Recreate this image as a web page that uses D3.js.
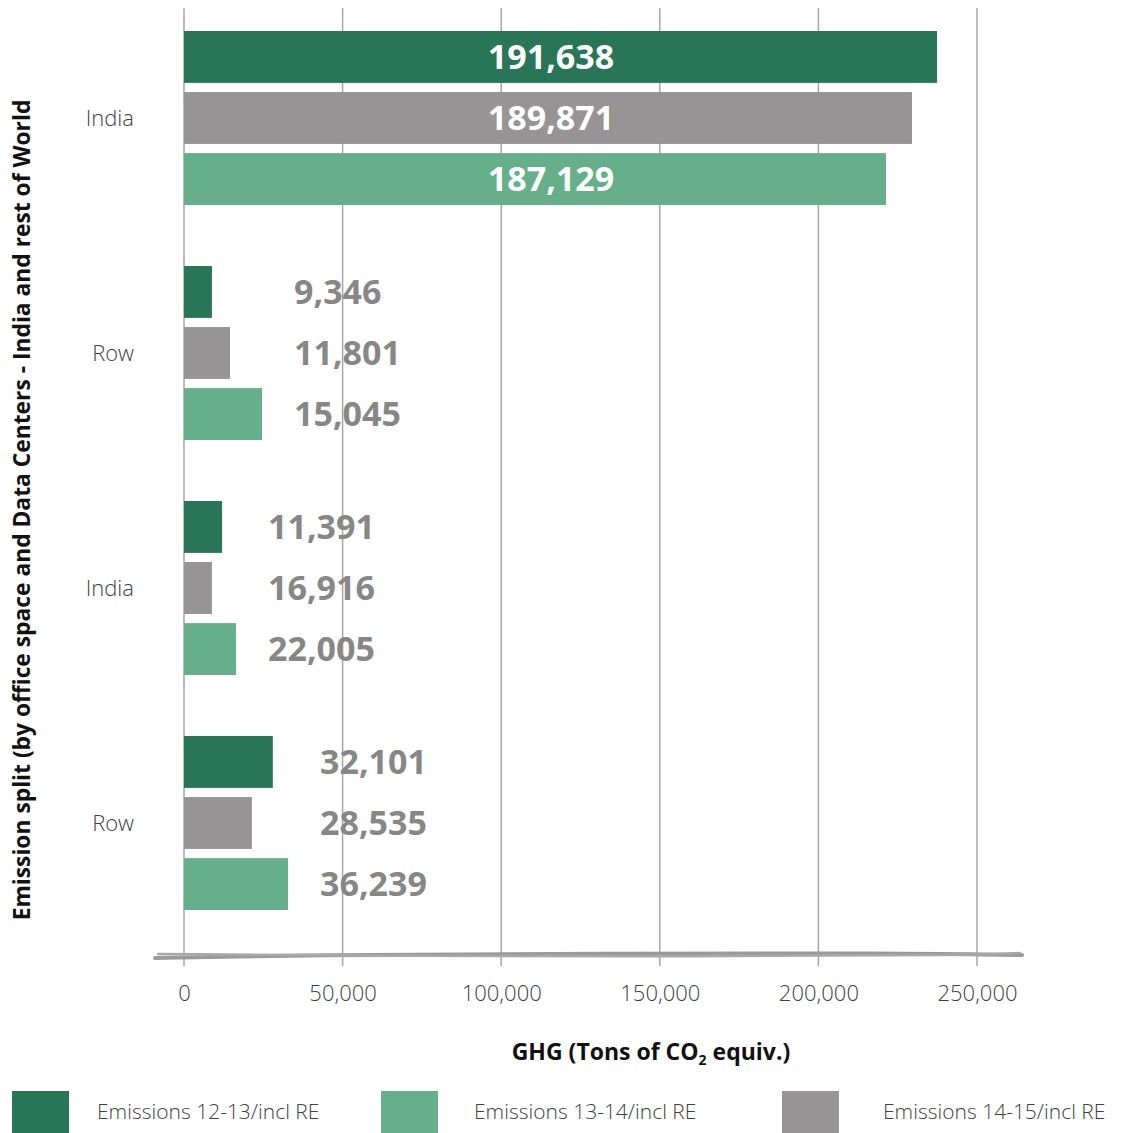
<!DOCTYPE html>
<html>
<head>
<meta charset="utf-8">
<script src="https://cdn.jsdelivr.net/npm/d3@7"></script>
<style>
  body { margin: 0; background: #fff; }
  text { font-family: "Open Sans", "Noto Sans", sans-serif; }
</style>
</head>
<body>
<div id="chart"></div>
<script>
// groups top to bottom
const groups = ['India', 'Row', 'India', 'Row'];
const series = ['Emissions 12-13/incl RE', 'Emissions 14-15/incl RE', 'Emissions 13-14/incl RE'];
const seriesColors = ['#287657', '#969495', '#65b08a'];
// bar lengths as drawn in the picture (tons CO2e)
const barValues = [
  [237400, 229500, 221300],
  [8800, 14500, 24600],
  [12000, 8800, 16400],
  [28000, 21400, 32800]
];
// printed value labels
const labelValues = [
  [191638, 189871, 187129],
  [9346, 11801, 15045],
  [11391, 16916, 22005],
  [32101, 28535, 36239]
];
const xTicks = [0, 50000, 100000, 150000, 200000, 250000];
const legendOrder = ['Emissions 12-13/incl RE', 'Emissions 13-14/incl RE', 'Emissions 14-15/incl RE'];

const W = 1125, H = 1133;
const svg = d3.select('#chart').append('svg').attr('width', W).attr('height', H);

const x = d3.scaleLinear().domain([0, 250000]).range([184, 977]);
const y0 = d3.scaleBand().domain(d3.range(groups.length)).range([1, 941]);
const y1 = d3.scaleBand().domain(d3.range(series.length)).range([30, 204]).paddingInner(0.15);

// gridlines
svg.append('g').selectAll('line').data(xTicks).join('line')
  .attr('x1', d => x(d)).attr('x2', d => x(d))
  .attr('y1', 8).attr('y2', 966)
  .attr('stroke', '#a6a6a6').attr('stroke-width', 1.5);

// bars
const g = svg.append('g').selectAll('g').data(barValues).join('g')
  .attr('transform', (d, i) => `translate(0,${y0(i)})`);

g.selectAll('rect').data(d => d).join('rect')
  .attr('x', x(0)).attr('y', (d, j) => y1(j))
  .attr('width', d => x(d) - x(0)).attr('height', y1.bandwidth())
  .attr('fill', (d, j) => seriesColors[j]);

// value labels
g.each(function(vals, i) {
  const inside = vals[1] > 100000;
  const gmax = d3.max(vals);
  d3.select(this).selectAll('text.val').data(labelValues[i]).join('text')
    .attr('class', 'val')
    .attr('x', inside ? (x(0) + x(vals[1])) / 2 + 3 : x(gmax) + 32)
    .attr('y', (d, j) => y1(j) + y1.bandwidth() / 2)
    .attr('dy', '0.36em')
    .attr('text-anchor', inside ? 'middle' : 'start')
    .attr('font-size', 34).attr('font-weight', 700)
    .attr('fill', inside ? '#ffffff' : '#878787')
    .text(d => d3.format(',')(d));
});

// category labels
svg.append('g').selectAll('text').data(groups).join('text')
  .attr('x', 134).attr('y', (d, i) => y0(i) + y1(1) + y1.bandwidth() / 2)
  .attr('dy', '0.35em').attr('text-anchor', 'end')
  .attr('font-size', 22).attr('font-weight', 300).attr('fill', '#404040')
  .text(d => d);

// hand drawn axis baseline
const sketch = d3.line().curve(d3.curveBasis);
const baseA = [[155, 958], [300, 955], [600, 953.5], [900, 953], [1022, 955]];
const baseB = [[158, 954], [400, 956], [700, 956.5], [980, 955], [1020, 953]];
svg.append('path').attr('d', sketch(baseA)).attr('fill', 'none')
  .attr('stroke', '#9a9a9a').attr('stroke-width', 4).attr('stroke-linecap', 'round');
svg.append('path').attr('d', sketch(baseB)).attr('fill', 'none')
  .attr('stroke', '#a8a8a8').attr('stroke-width', 2.5).attr('stroke-linecap', 'round');

// tick labels
const axis = d3.axisBottom(x).tickValues(xTicks).tickSize(0).tickPadding(0).tickFormat(d3.format(','));
const ax = svg.append('g').attr('transform', 'translate(0,985)').call(axis);
ax.select('.domain').remove();
ax.selectAll('text').attr('font-size', 22).attr('font-weight', 300).attr('fill', '#404040')
  .attr('font-family', '"Open Sans", sans-serif');

// axis titles
const xt = svg.append('text').attr('x', 651).attr('y', 1060).attr('text-anchor', 'middle')
  .attr('font-size', 23).attr('font-weight', 700).attr('fill', '#111');
xt.append('tspan').text('GHG (Tons of CO');
xt.append('tspan').attr('font-size', 14).attr('dy', 5).text('2');
xt.append('tspan').attr('dy', -5).text(' equiv.)');

svg.append('text')
  .attr('transform', 'translate(30,510) rotate(-90)')
  .attr('text-anchor', 'middle')
  .attr('font-size', 22.8).attr('font-weight', 700).attr('fill', '#111')
  .text('Emission split (by office space and Data Centers - India and rest of World');

// legend
const legX = [12, 381, 782];
const legTextX = [85, 93, 101];
const legend = svg.append('g').selectAll('g').data(legendOrder).join('g')
  .attr('transform', (d, i) => `translate(${legX[i]},1091)`);
legend.append('rect').attr('width', 57).attr('height', 42)
  .attr('fill', d => seriesColors[series.indexOf(d)]);
legend.append('text').attr('x', (d, i) => legTextX[i]).attr('y', 21).attr('dy', '0.35em')
  .attr('font-size', 21).attr('font-weight', 300).attr('fill', '#404040')
  .text(d => d);
</script>
</body>
</html>
